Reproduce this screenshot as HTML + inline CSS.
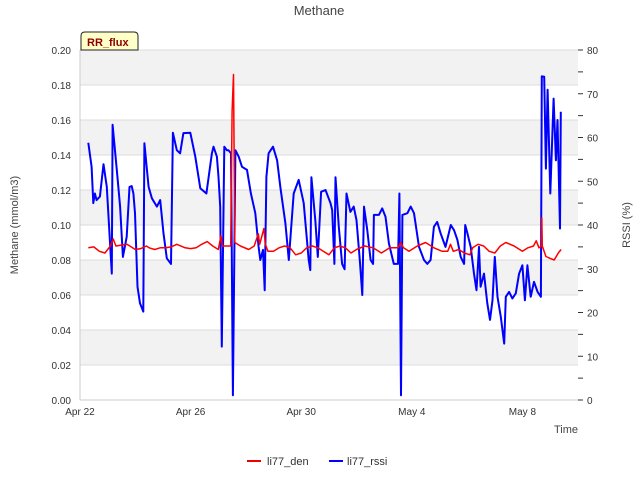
<!DOCTYPE html>
<html><head><meta charset="utf-8">
<style>
body{margin:0;background:#fff;}
svg{display:block;font-family:"Liberation Sans","DejaVu Sans",sans-serif;}
</style></head>
<body>
<svg id="chart" width="640" height="480">
  <text x="319" y="15" text-anchor="middle" font-size="13" fill="#444">Methane</text>
  <g id="grid"></g>
  <g id="series"></g>
  <g id="axes"></g>
  <text transform="translate(18,225) rotate(-90)" text-anchor="middle" font-size="11" fill="#444">Methane (mmol/m3)</text>
  <text transform="translate(630,225) rotate(-90)" text-anchor="middle" font-size="11" fill="#444">RSSI (%)</text>
  <text x="566" y="433" text-anchor="middle" font-size="11" fill="#444">Time</text>
  <g>
    <path d="M81,50 L81,36 Q81,32 85,32 L134,32 Q138,32 138,36 L138,50 Z" fill="#ffffc8" stroke="#222" stroke-width="1"/>
    <text x="87" y="46" font-size="11" font-weight="bold" fill="#8b0000">RR_flux</text>
  </g>
  <g>
    <line x1="247" y1="461" x2="261" y2="461" stroke="#e00" stroke-width="2"/>
    <text x="267" y="465" font-size="11" fill="#333">li77_den</text>
    <line x1="329" y1="461" x2="343" y2="461" stroke="#00f" stroke-width="2"/>
    <text x="347" y="465" font-size="11" fill="#333">li77_rssi</text>
  </g>
</svg>
<script>
const xTickLabels = ["Apr 22","Apr 26","Apr 30","May 4","May 8"];
const xTickDays = [0,4,8,12,16];
const yTicks = [0,0.02,0.04,0.06,0.08,0.10,0.12,0.14,0.16,0.18,0.20];
const y2Ticks = [0,10,20,30,40,50,60,70,80];
const denDays = [0.3,0.5,0.7,0.9,1.1,1.2,1.3,1.5,1.7,1.8,2.0,2.2,2.4,2.5,2.7,2.9,3.1,3.3,3.5,3.8,4.0,4.2,4.4,4.6,4.8,5.0,5.1,5.15,5.3,5.45,5.5,5.55,5.6,5.8,6.1,6.3,6.45,6.5,6.65,6.7,6.8,7.0,7.2,7.4,7.6,7.8,8.0,8.2,8.4,8.6,8.8,9.0,9.2,9.4,9.6,9.8,10.0,10.3,10.6,10.9,11.2,11.5,11.6,11.7,11.9,12.2,12.5,12.8,13.1,13.3,13.4,13.5,13.7,13.9,14.1,14.2,14.4,14.6,14.8,15.0,15.2,15.4,15.7,16.0,16.2,16.4,16.5,16.6,16.69,16.7,16.72,16.85,17.0,17.15,17.3,17.4];
const denValues = [0.087,0.0875,0.085,0.084,0.088,0.092,0.088,0.0885,0.089,0.088,0.086,0.0865,0.088,0.087,0.086,0.087,0.087,0.0875,0.089,0.087,0.0865,0.087,0.089,0.0905,0.088,0.086,0.094,0.088,0.088,0.088,0.165,0.186,0.09,0.088,0.086,0.088,0.095,0.089,0.098,0.089,0.085,0.085,0.087,0.088,0.087,0.083,0.084,0.087,0.088,0.087,0.085,0.083,0.087,0.088,0.087,0.084,0.086,0.088,0.087,0.084,0.087,0.087,0.090,0.087,0.085,0.088,0.090,0.087,0.085,0.085,0.089,0.085,0.086,0.084,0.083,0.087,0.089,0.088,0.085,0.084,0.088,0.090,0.088,0.085,0.087,0.088,0.091,0.087,0.088,0.104,0.088,0.082,0.081,0.080,0.084,0.086];
const rssiDays = [0.30,0.42,0.48,0.54,0.60,0.72,0.85,0.97,1.15,1.18,1.33,1.45,1.55,1.69,1.79,1.87,1.93,1.99,2.08,2.17,2.29,2.33,2.48,2.60,2.78,2.90,3.02,3.14,3.29,3.36,3.50,3.62,3.74,3.99,4.17,4.35,4.57,4.77,4.83,4.95,5.01,5.07,5.13,5.22,5.31,5.37,5.46,5.53,5.62,5.74,5.86,6.04,6.18,6.34,6.46,6.52,6.62,6.68,6.74,6.82,6.98,7.13,7.25,7.43,7.55,7.73,7.91,8.09,8.27,8.33,8.37,8.51,8.60,8.72,8.88,9.06,9.12,9.20,9.24,9.36,9.48,9.57,9.64,9.78,9.90,10.00,10.12,10.21,10.27,10.39,10.51,10.60,10.63,10.81,10.93,11.05,11.17,11.35,11.50,11.55,11.61,11.66,11.84,11.96,12.08,12.26,12.44,12.56,12.68,12.80,12.92,13.04,13.22,13.41,13.53,13.65,13.77,13.89,13.93,14.01,14.13,14.25,14.34,14.43,14.49,14.61,14.73,14.83,14.92,15.00,15.10,15.22,15.34,15.40,15.52,15.64,15.76,15.88,16.00,16.09,16.18,16.30,16.42,16.55,16.67,16.70,16.79,16.85,16.91,17.01,17.13,17.21,17.27,17.36,17.39];
const rssiValues = [58.8,53.3,45.0,47.2,45.7,46.5,53.9,48.7,28.9,62.9,52.6,44.2,32.7,37.3,48.7,48.9,47.2,42.7,25.9,22.1,20.2,58.7,48.7,46.1,44.2,45.7,38.1,32.4,31.1,61.1,57.1,56.4,61.0,61.1,55.6,48.4,47.2,56.4,57.9,55.6,51.0,44.2,12.2,57.9,57.1,57.1,56.4,1.1,57.1,55.6,53.3,52.6,47.2,42.7,35.0,32.0,34.3,25.1,51.0,56.4,57.9,54.8,48.4,40.4,32.0,47.2,50.3,45.0,32.0,29.7,50.9,41.1,32.7,47.6,48.0,45.0,43.4,31.1,50.9,39.6,31.1,29.9,47.2,43.0,44.2,41.1,32.0,24.0,44.2,38.8,32.0,31.1,42.3,42.3,43.8,41.9,35.8,31.1,31.1,47.2,1.1,42.3,42.7,44.2,42.7,35.0,32.0,31.1,32.0,39.6,40.7,38.1,35.0,40.0,38.8,36.6,32.7,31.1,40.0,38.1,35.0,28.9,25.1,35.0,25.9,28.9,22.1,18.3,22.8,32.7,23.6,19.0,12.9,23.6,24.7,23.2,24.4,28.9,30.8,22.8,30.8,23.6,27.0,24.7,23.6,74.0,73.9,52.9,70.9,47.2,68.9,54.8,64.0,39.2,65.9];

const L=80,R=578,T=50,B=400;
const xS=d=>L+d*27.65;
const yS=v=>B-(v/0.2)*(B-T);
const y2S=v=>B-(v/80)*(B-T);
const NS="http://www.w3.org/2000/svg";
function mk(tag,attrs,parent){const e=document.createElementNS(NS,tag);for(const k in attrs)e.setAttribute(k,attrs[k]);parent.appendChild(e);return e;}
const grid=document.getElementById('grid'),axes=document.getElementById('axes'),series=document.getElementById('series');
for(let i=0;i<yTicks.length-1;i++){
  if(i%2===1){const r=mk('rect',{x:L,y:yS(yTicks[i+1]),width:R-L,height:yS(yTicks[i])-yS(yTicks[i+1]),fill:'#f2f2f2'},grid);
    
    }
}
yTicks.forEach(v=>{
  const g=mk('line',{x1:L,x2:R,y1:yS(v),y2:yS(v),stroke:'#dcdcdc','stroke-width':1},grid);
  
  
  const t=mk('text',{x:71,y:yS(v)+4,'text-anchor':'end','font-size':10,fill:'#333'},axes);
  t.textContent=v.toFixed(2);
  
  
});
for(let v=0;v<=80;v+=5){
  const tk=mk('line',{x1:R,x2:R+5,y1:y2S(v),y2:y2S(v),stroke:'#333','stroke-width':1},axes);
  
  
}
y2Ticks.forEach(v=>{
  const t=mk('text',{x:587,y:y2S(v)+4,'font-size':10,fill:'#333'},axes);
  t.textContent=v;
  
  
});
mk('line',{x1:L,x2:L,y1:T,y2:B,stroke:'#ccc'},axes);
mk('line',{x1:L,x2:R,y1:B,y2:B,stroke:'#ccc'},axes);
xTickDays.forEach((d,i)=>{
  const t=mk('text',{x:xS(d),y:415,'text-anchor':'middle','font-size':10,fill:'#333'},axes);
  t.textContent=xTickLabels[i];
  
  
});
const rp=mk('polyline',{points:rssiDays.map((d,i)=>xS(d).toFixed(1)+','+y2S(rssiValues[i]).toFixed(1)).join(' '),fill:'none',stroke:'#0000ff','stroke-width':2,'stroke-linejoin':'round'},series);


const dp=mk('polyline',{points:denDays.map((d,i)=>xS(d).toFixed(1)+','+yS(denValues[i]).toFixed(1)).join(' '),fill:'none',stroke:'#ff0000','stroke-width':1.5,'stroke-linejoin':'round'},series);


</script>
</body></html>
